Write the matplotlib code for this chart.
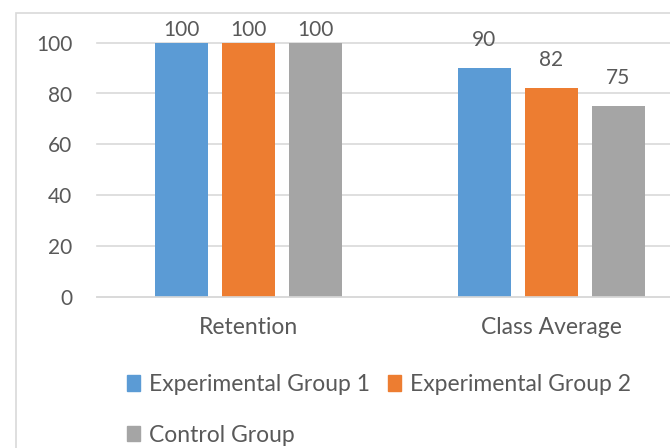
import matplotlib
matplotlib.use("Agg")
import matplotlib.pyplot as plt
from matplotlib.patches import Rectangle, Patch
import numpy as np

categories = ["Retention", "Class Average"]
series_names = ["Experimental Group 1", "Experimental Group 2", "Control Group"]
exp1 = [100, 90]
exp2 = [100, 82]
control = [100, 75]
yticks = [0, 20, 40, 60, 80, 100]

colors = ["#5B9BD5", "#ED7D31", "#A5A5A5"]
text_color = "#595959"
grid_color = "#D9D9D9"
FS = 15
FS_TXT = 16.5

plt.rcParams["font.family"] = ["Lato", "DejaVu Sans"]

W, H = 670, 448
fig = plt.figure(figsize=(W / 100, H / 100), dpi=100)
fig.patch.set_facecolor("white")

# chart area border (cropped on right/bottom)
fig.patches.append(Rectangle((15.5 / W, -0.1), 1.2, 1 - 13 / H + 0.1,
                             transform=fig.transFigure, fill=False,
                             edgecolor=grid_color, linewidth=1.2, clip_on=False))

ax = fig.add_axes([96.7 / W, 1 - 296.7 / H, 606 / W, 254 / H])
ax.set_xlim(-0.5, 1.5)
ax.set_ylim(0, 100)

x = np.arange(len(categories))
step = 67 / 303
width = 53 / 303
ymax = 100
for i, (vals, c, name) in enumerate(zip([exp1, exp2, control], colors, series_names)):
    xs = x + (i - 1) * step
    ax.bar(xs, vals, width=width, color=c, label=name, zorder=2)
    for xx, v in zip(xs, vals):
        off = 2 if v >= ymax else 13
        ax.annotate(f"{v}", (xx, v), xytext=(0, off), textcoords="offset points",
                    ha="center", va="bottom", fontsize=FS, color=text_color,
                    annotation_clip=False)

ax.set_xticks(x)
ax.set_xticklabels(categories, fontsize=FS_TXT)
ax.set_yticks(yticks)
ax.tick_params(axis="both", length=0, labelcolor=text_color)
ax.tick_params(axis="y", pad=17.5, labelsize=FS)
ax.tick_params(axis="x", pad=14.5)
for s in ["top", "right", "left"]:
    ax.spines[s].set_visible(False)
ax.spines["bottom"].set_color(grid_color)
ax.spines["bottom"].set_linewidth(1.2)
ax.grid(axis="y", color=grid_color, linewidth=1.2)
ax.set_axisbelow(True)
for gl in ax.get_ygridlines():
    gl.set_clip_on(False)

handles = [Patch(color=colors[0]), Patch(color=colors[2]), Patch(color=colors[1])]
labels = [series_names[0], series_names[2], series_names[1]]
leg = fig.legend(handles, labels, ncol=2, loc="upper left",
                 bbox_to_anchor=(127 / W, 1 - 374 / H), frameon=False,
                 fontsize=FS_TXT, labelcolor=text_color,
                 handlelength=0.55, handleheight=0.65, handletextpad=0.4,
                 columnspacing=0.8, labelspacing=1.3, borderpad=0, borderaxespad=0)

fig.savefig("out.png", dpi=100)
